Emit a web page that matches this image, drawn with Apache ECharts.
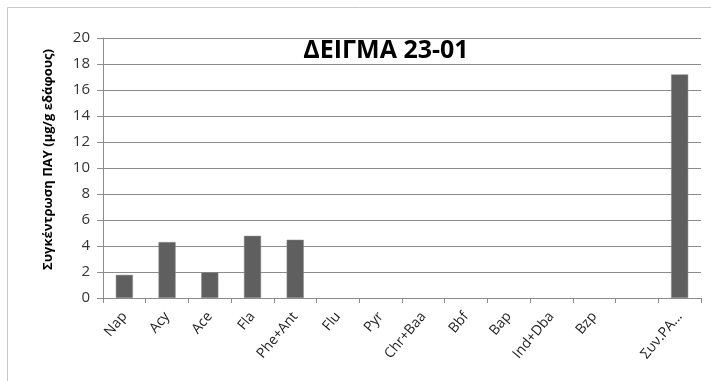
<!DOCTYPE html>
<html>
<head>
<meta charset="utf-8">
<script src="https://cdn.jsdelivr.net/npm/echarts@6/dist/echarts.min.js"></script>
<style>
  html, body { margin: 0; padding: 0; background: #fff; }
  #chart { width: 711px; height: 381px; }
</style>
</head>
<body>
<div id="chart"></div>
<script>
// PAH concentrations for sample 23-01
const categories = ['Nap', 'Acy', 'Ace', 'Fla', 'Phe+Ant', 'Flu', 'Pyr', 'Chr+Baa', 'Bbf', 'Bap', 'Ind+Dba', 'Bzp', '', 'Συν.PA...'];
const values = [1.78, 4.3, 1.98, 4.78, 4.48, null, null, null, null, null, null, null, null, 17.2];
const yTicks = [0, 2, 4, 6, 8, 10, 12, 14, 16, 18, 20];

const titleText = 'ΔΕΙΓΜΑ 23-01';
const yAxisTitle = 'Συγκέντρωση ΠΑΥ (μg/g εδάφους)';

const chart = echarts.init(document.getElementById('chart'), null, { renderer: 'canvas' });
const font = '"Open Sans", "Noto Sans", sans-serif';

chart.setOption({
  animation: false,
  backgroundColor: '#ffffff',
  textStyle: { fontFamily: font },
  graphic: [{
    type: 'rect',
    shape: { x: 7.5, y: 7.5, width: 740, height: 420 },
    style: { fill: 'none', stroke: '#c8c8c8', lineWidth: 1 },
    silent: true
  }],
  title: {
    text: titleText,
    left: 381,
    top: 33,
    textAlign: 'center',
    textStyle: { fontFamily: font, fontWeight: 'bold', fontSize: 25, color: '#000' }
  },
  grid: { left: 103, right: 10, top: 38, bottom: 83, containLabel: false },
  xAxis: {
    type: 'category',
    data: categories,
    axisLine: { show: true, lineStyle: { color: '#8c8c8c', width: 1 } },
    axisTick: { show: true, length: 5, alignWithLabel: false, lineStyle: { color: '#8c8c8c' } },
    axisLabel: {
      interval: 0, rotate: 50, margin: 16,
      fontFamily: font, fontSize: 14, color: '#222'
    }
  },
  yAxis: {
    type: 'value',
    min: yTicks[0], max: yTicks[yTicks.length - 1], interval: 2,
    name: yAxisTitle,
    nameLocation: 'middle',
    nameGap: 48,
    nameRotate: 90,
    nameTextStyle: { fontFamily: font, fontWeight: 'bold', fontSize: 13, color: '#000', padding: [0, 0, 0, 17] },
    axisLine: { show: true, lineStyle: { color: '#8c8c8c', width: 1 } },
    axisTick: { show: true, length: 6, lineStyle: { color: '#8c8c8c' } },
    axisLabel: { margin: 13, fontFamily: font, fontSize: 15, color: '#333' },
    splitLine: { show: true, lineStyle: { color: '#8c8c8c', width: 1 } }
  },
  series: [{
    type: 'bar',
    data: values,
    barWidth: '40%',
    itemStyle: { color: '#5f5f5f', borderColor: '#8a8a8a', borderWidth: 0.5 }
  }]
});
</script>
</body>
</html>
